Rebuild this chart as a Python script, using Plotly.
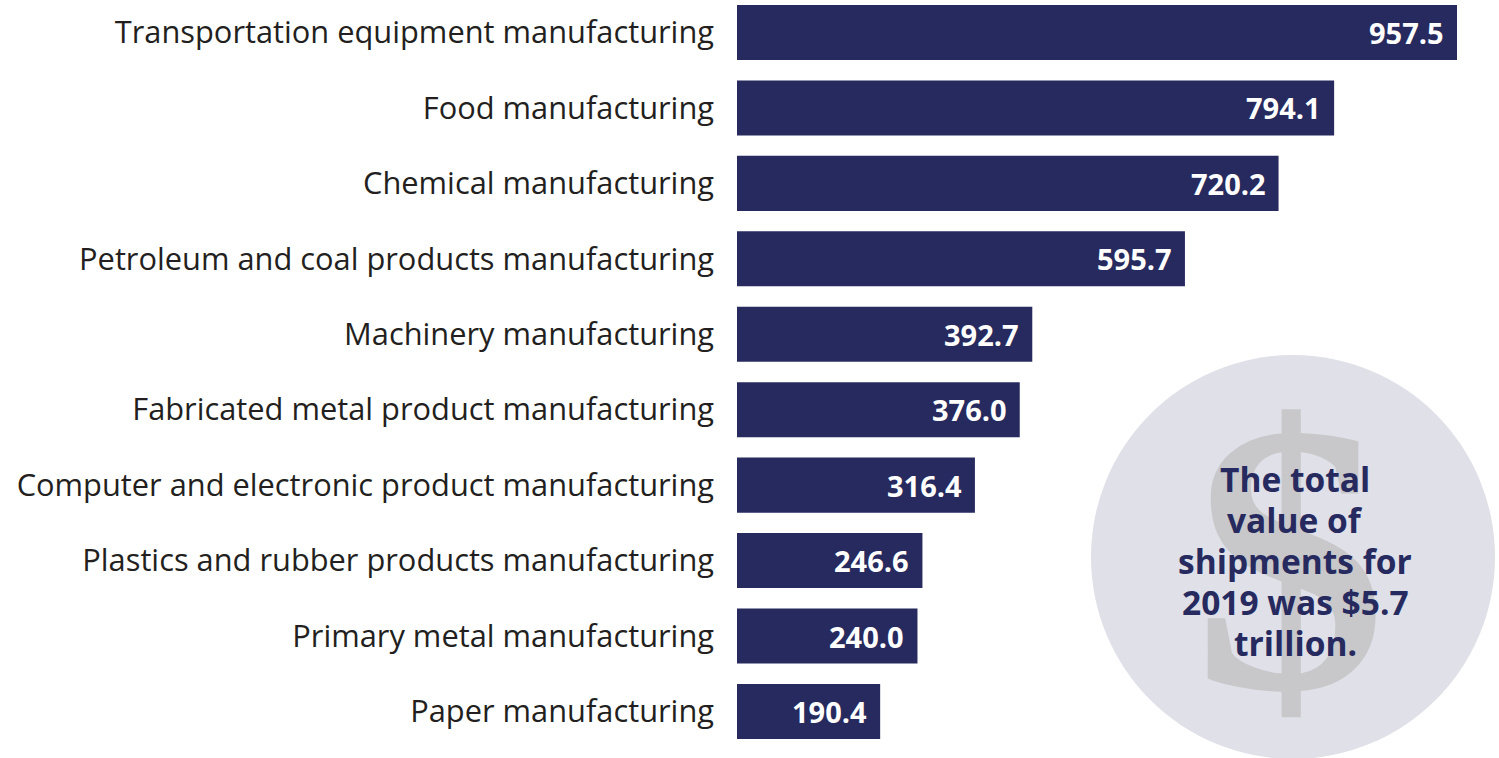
import plotly.graph_objects as go

categories = [
    "Transportation equipment manufacturing",
    "Food manufacturing",
    "Chemical manufacturing",
    "Petroleum and coal products manufacturing",
    "Machinery manufacturing",
    "Fabricated metal product manufacturing",
    "Computer and electronic product manufacturing",
    "Plastics and rubber products manufacturing",
    "Primary metal manufacturing",
    "Paper manufacturing",
]
values = [957.5, 794.1, 720.2, 595.7, 392.7, 376.0, 316.4, 246.6, 240.0, 190.4]
value_labels = [f"{v:.1f}" for v in values]
callout_lines = ["The total", "value of", "shipments for", "2019 was $5.7", "trillion."]

NAVY = "#262a5e"
W, H = 1499, 758
L = 737

fig = go.Figure()
fig.add_trace(go.Bar(
    x=values, y=categories, orientation="h",
    marker=dict(color=NAVY, line=dict(width=0)),
    width=0.73, hoverinfo="skip",
))

for c, v, t in zip(categories, values, value_labels):
    fig.add_annotation(
        x=v, y=c, xref="x", yref="y", text=f"<b>{t}</b>",
        showarrow=False, xanchor="right", xshift=-11,
        font=dict(family="Open Sans", size=29, color="white"),
    )

pw = W - L
def px_x(p):
    return (p - L) / pw
def px_y(p):
    return 1 - p / H

cx, cy, r = 1293, 557, 202
fig.add_shape(
    type="circle", xref="paper", yref="paper",
    x0=px_x(cx - r), x1=px_x(cx + r), y0=px_y(cy + r), y1=px_y(cy - r),
    fillcolor="#dfe0e8", line=dict(width=0), layer="below",
)
fig.add_annotation(
    x=px_x(1290), y=px_y(558), xref="paper", yref="paper",
    text="<b>$</b>", showarrow=False, xanchor="center", yanchor="middle",
    font=dict(family="Liberation Sans Narrow", size=385, color="#c8c8ca"),
)
for i, line in enumerate(callout_lines):
    fig.add_annotation(
        x=px_x(1295), y=px_y(478.5 + 41.2 * i), xref="paper", yref="paper",
        text=f"<b>{line}</b>", showarrow=False,
        xanchor="center", yanchor="middle", align="center",
        font=dict(family="Open Sans", size=33.5, color=NAVY),
    )

scale = 720 / 957.5
step = 75.44
top = -32.5 / step
bottom = top + H / step
fig.update_layout(
    width=W, height=H,
    margin=dict(l=L, r=0, t=0, b=0),
    paper_bgcolor="white", plot_bgcolor="white",
    showlegend=False,
    xaxis=dict(range=[0, pw / scale], visible=False, fixedrange=True),
    yaxis=dict(
        type="category", categoryorder="array", categoryarray=categories,
        range=[bottom, top], automargin=False, fixedrange=True,
        showgrid=False, zeroline=False, showline=False, ticks="",
        ticklabelstandoff=22,
        tickfont=dict(family="Open Sans", size=30.8, color="#231f20"),
    ),
)

fig.write_html(
    "out.html",
    config={"displayModeBar": False},
    post_script="document.body.style.margin='0';document.body.style.overflow='hidden';",
)
